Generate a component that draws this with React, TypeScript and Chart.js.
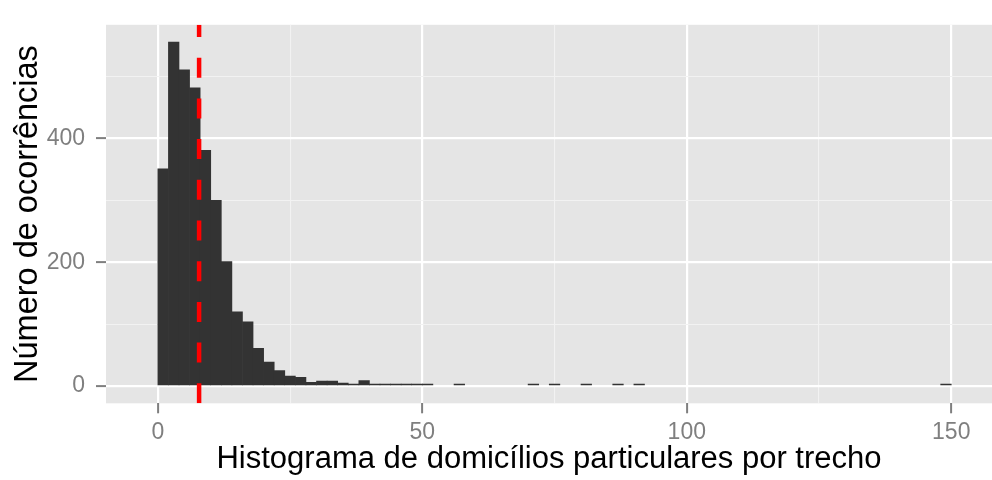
import React, { useEffect, useRef } from 'react';
import { Chart, registerables } from 'chart.js';

Chart.register(...registerables);

// Histogram bins (bin width 2, centers)
const BIN_CENTERS = [
  1, 3, 5, 7, 9, 11, 13, 15, 17, 19,
  21, 23, 25, 27, 29, 31, 33, 35, 37, 39,
  41, 43, 45, 47, 49, 51, 53, 55, 57, 59,
  61, 63, 65, 67, 69, 71, 73, 75, 77, 79,
  81, 83, 85, 87, 89, 91, 93, 95, 97, 99,
  101, 103, 105, 107, 109, 111, 113, 115, 117, 119,
  121, 123, 125, 127, 129, 131, 133, 135, 137, 139,
  141, 143, 145, 147, 149,
];
const COUNTS = [
  351, 556, 511, 482, 381, 300, 201, 120, 104, 61,
  39, 25, 16, 14, 6, 8, 8, 5, 3, 9,
  3, 1, 2, 3, 1, 1, 0, 0, 1, 0,
  0, 0, 0, 0, 0, 1, 0, 1, 0, 0,
  1, 0, 0, 1, 0, 1, 0, 0, 0, 0,
  0, 0, 0, 0, 0, 0, 0, 0, 0, 0,
  0, 0, 0, 0, 0, 0, 0, 0, 0, 0,
  0, 0, 0, 0, 1,
];
const MEAN_LINE = 7.8;

const X_MIN = -9.8;
const X_MAX = 157.7;
const Y_MIN = -27.8;
const Y_MAX = 583.8;
const X_MAJOR = 50;
const X_STEP = 25;
const Y_MAJOR = 200;
const Y_STEP = 100;

const X_TITLE = 'Histograma de domicílios particulares por trecho';
const Y_TITLE = 'Número de ocorrências';

const FONT = "'Liberation Sans', Arial, sans-serif";

const panelBg = {
  id: 'panelBg',
  beforeDraw(chart: any) {
    const { ctx, chartArea } = chart;
    ctx.save();
    ctx.fillStyle = '#E5E5E5';
    ctx.fillRect(chartArea.left, chartArea.top, chartArea.right - chartArea.left, chartArea.bottom - chartArea.top);
    ctx.restore();
  },
};

const meanLine = {
  id: 'meanLine',
  afterDatasetsDraw(chart: any) {
    const { ctx, chartArea, scales } = chart;
    const x = scales.x.getPixelForValue(MEAN_LINE);
    ctx.save();
    ctx.beginPath();
    ctx.rect(chartArea.left, chartArea.top, chartArea.right - chartArea.left, chartArea.bottom - chartArea.top);
    ctx.clip();
    ctx.strokeStyle = '#FF0000';
    ctx.lineWidth = 4.5;
    ctx.setLineDash([20, 20.7]);
    ctx.beginPath();
    ctx.moveTo(x, chartArea.bottom);
    ctx.lineTo(x, chartArea.top);
    ctx.stroke();
    ctx.restore();
  },
};

const isMajor = (v: number, m: number) => Math.abs(v % m) < 1e-6;
const tickVal = (c: any) => (c && c.tick ? Number(c.tick.value) : NaN);
const gridColor = (m: number) => (c: any) => (isMajor(tickVal(c), m) ? '#FFFFFF' : '#F2F2F2');
const gridWidth = (m: number) => (c: any) => (isMajor(tickVal(c), m) ? 2.2 : 1.1);
const tickColor = (m: number) => (c: any) => (isMajor(tickVal(c), m) ? '#7F7F7F' : 'rgba(0,0,0,0)');

export default function App() {
  const ref = useRef<HTMLCanvasElement | null>(null);

  useEffect(() => {
    document.body.style.margin = '0';
    const canvas = ref.current;
    if (!canvas) return;
    const data = BIN_CENTERS.map((c, i) => ({ x: c, y: COUNTS[i] === 0 ? null : COUNTS[i] }));
    const chart = new Chart(canvas, {
      type: 'bar',
      data: {
        datasets: [
          {
            data: data as any,
            backgroundColor: '#333333',
            borderWidth: 0,
            barPercentage: 1,
            categoryPercentage: 1,
            minBarLength: 2,
          },
        ],
      },
      options: {
        responsive: false,
        animation: false,
        devicePixelRatio: 1,
        layout: { padding: { top: 12, left: 0, right: 0, bottom: 0 } },
        plugins: { legend: { display: false }, tooltip: { enabled: false } },
        scales: {
          x: {
            type: 'linear',
            min: X_MIN,
            max: X_MAX,
            offset: false,
            border: { display: false },
            grid: {
              offset: false,
              color: gridColor(X_MAJOR),
              lineWidth: gridWidth(X_MAJOR),
              tickColor: tickColor(X_MAJOR),
              tickLength: 10,
              tickWidth: 2,
            },
            ticks: {
              stepSize: X_STEP,
              includeBounds: false,
              autoSkip: false,
              maxRotation: 0,
              padding: 6,
              color: '#7F7F7F',
              font: { family: FONT, size: 23 },
              callback: (v: any) => (isMajor(Number(v), X_MAJOR) ? String(v) : ''),
            },
            title: {
              display: true,
              text: X_TITLE,
              color: '#000000',
              font: { family: FONT, size: 31 },
              padding: { top: 0, bottom: 2 },
            },
            afterFit: (s: any) => {
              s.height = 76.7;
            },
          },
          y: {
            type: 'linear',
            min: Y_MIN,
            max: Y_MAX,
            border: { display: false },
            grid: {
              offset: false,
              color: gridColor(Y_MAJOR),
              lineWidth: gridWidth(Y_MAJOR),
              tickColor: tickColor(Y_MAJOR),
              tickLength: 10,
              tickWidth: 2,
            },
            ticks: {
              stepSize: Y_STEP,
              includeBounds: false,
              autoSkip: false,
              padding: 11,
              color: '#7F7F7F',
              font: { family: FONT, size: 23 },
              callback: (v: any) => (isMajor(Number(v), Y_MAJOR) ? String(v) : ''),
            },
            title: {
              display: true,
              text: Y_TITLE,
              color: '#000000',
              font: { family: FONT, size: 32.5 },
              padding: { top: 9, bottom: 0 },
            },
            afterFit: (s: any) => {
              s.width = 106;
            },
          },
        },
      },
      plugins: [panelBg, meanLine],
    });
    return () => chart.destroy();
  }, []);

  return (
    <div style={{ position: 'fixed', left: 0, top: 0, width: 992, height: 480, background: '#FFFFFF' }}>
      <canvas ref={ref} width={992} height={480} style={{ display: 'block', width: 992, height: 480 }} />
    </div>
  );
}
